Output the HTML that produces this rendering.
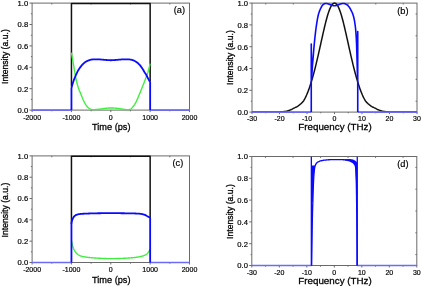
<!DOCTYPE html>
<html><head><meta charset="utf-8"><style>
html,body{margin:0;padding:0;background:#fff;}
body{width:422px;height:287px;overflow:hidden;font-family:"Liberation Sans",sans-serif;}
svg{display:block;}
</style></head><body>
<svg width="422" height="287" viewBox="0 0 422 287">
<rect width="422" height="287" fill="#fff"/>
<g>
<g style="filter:grayscale(1)" font-family='"Liberation Sans", sans-serif' fill="#000" stroke="#000" stroke-width="0.28">
<rect x="32.10" y="3.10" width="157.40" height="107.00" fill="none" stroke="#6a6a6a" stroke-width="1"/>
<line x1="29.50" y1="110.10" x2="32.10" y2="110.10" stroke="#6a6a6a" stroke-width="1"/>
<text x="0" y="0" font-size="7.20" stroke-width="0.18" text-anchor="end" dominant-baseline="central" transform="translate(28.20,110.50) scale(1.060,1)">0.0</text>
<line x1="29.50" y1="88.70" x2="32.10" y2="88.70" stroke="#6a6a6a" stroke-width="1"/>
<text x="0" y="0" font-size="7.20" stroke-width="0.18" text-anchor="end" dominant-baseline="central" transform="translate(28.20,89.10) scale(1.060,1)">0.2</text>
<line x1="29.50" y1="67.30" x2="32.10" y2="67.30" stroke="#6a6a6a" stroke-width="1"/>
<text x="0" y="0" font-size="7.20" stroke-width="0.18" text-anchor="end" dominant-baseline="central" transform="translate(28.20,67.70) scale(1.060,1)">0.4</text>
<line x1="29.50" y1="45.90" x2="32.10" y2="45.90" stroke="#6a6a6a" stroke-width="1"/>
<text x="0" y="0" font-size="7.20" stroke-width="0.18" text-anchor="end" dominant-baseline="central" transform="translate(28.20,46.30) scale(1.060,1)">0.6</text>
<line x1="29.50" y1="24.50" x2="32.10" y2="24.50" stroke="#6a6a6a" stroke-width="1"/>
<text x="0" y="0" font-size="7.20" stroke-width="0.18" text-anchor="end" dominant-baseline="central" transform="translate(28.20,24.90) scale(1.060,1)">0.8</text>
<line x1="29.50" y1="3.10" x2="32.10" y2="3.10" stroke="#6a6a6a" stroke-width="1"/>
<text x="0" y="0" font-size="7.20" stroke-width="0.18" text-anchor="end" dominant-baseline="central" transform="translate(28.20,3.50) scale(1.060,1)">1.0</text>
<line x1="30.90" y1="99.40" x2="32.10" y2="99.40" stroke="#6a6a6a" stroke-width="1"/>
<line x1="30.90" y1="78.00" x2="32.10" y2="78.00" stroke="#6a6a6a" stroke-width="1"/>
<line x1="30.90" y1="56.60" x2="32.10" y2="56.60" stroke="#6a6a6a" stroke-width="1"/>
<line x1="30.90" y1="35.20" x2="32.10" y2="35.20" stroke="#6a6a6a" stroke-width="1"/>
<line x1="30.90" y1="13.80" x2="32.10" y2="13.80" stroke="#6a6a6a" stroke-width="1"/>
<line x1="32.10" y1="110.10" x2="32.10" y2="112.10" stroke="#6a6a6a" stroke-width="1"/>
<line x1="71.45" y1="110.10" x2="71.45" y2="112.10" stroke="#6a6a6a" stroke-width="1"/>
<line x1="110.80" y1="110.10" x2="110.80" y2="112.10" stroke="#6a6a6a" stroke-width="1"/>
<line x1="150.15" y1="110.10" x2="150.15" y2="112.10" stroke="#6a6a6a" stroke-width="1"/>
<line x1="189.50" y1="110.10" x2="189.50" y2="112.10" stroke="#6a6a6a" stroke-width="1"/>
<line x1="51.78" y1="110.10" x2="51.78" y2="111.30" stroke="#6a6a6a" stroke-width="1"/>
<line x1="91.12" y1="110.10" x2="91.12" y2="111.30" stroke="#6a6a6a" stroke-width="1"/>
<line x1="130.47" y1="110.10" x2="130.47" y2="111.30" stroke="#6a6a6a" stroke-width="1"/>
<line x1="169.82" y1="110.10" x2="169.82" y2="111.30" stroke="#6a6a6a" stroke-width="1"/>
<line x1="51.78" y1="3.10" x2="51.78" y2="4.50" stroke="#6a6a6a" stroke-width="1"/>
<line x1="91.12" y1="3.10" x2="91.12" y2="4.50" stroke="#6a6a6a" stroke-width="1"/>
<line x1="130.47" y1="3.10" x2="130.47" y2="4.50" stroke="#6a6a6a" stroke-width="1"/>
<line x1="169.82" y1="3.10" x2="169.82" y2="4.50" stroke="#6a6a6a" stroke-width="1"/>
<text x="32.10" y="119.60" font-size="7" stroke-width="0.18" text-anchor="middle">-2000</text>
<text x="71.45" y="119.60" font-size="7" stroke-width="0.18" text-anchor="middle">-1000</text>
<text x="110.80" y="119.60" font-size="7" stroke-width="0.18" text-anchor="middle">0</text>
<text x="150.15" y="119.60" font-size="7" stroke-width="0.18" text-anchor="middle">1000</text>
<text x="189.50" y="119.60" font-size="7" stroke-width="0.18" text-anchor="middle">2000</text>
<rect x="32.10" y="155.90" width="157.40" height="106.60" fill="none" stroke="#6a6a6a" stroke-width="1"/>
<line x1="29.50" y1="262.50" x2="32.10" y2="262.50" stroke="#6a6a6a" stroke-width="1"/>
<text x="0" y="0" font-size="7.20" stroke-width="0.18" text-anchor="end" dominant-baseline="central" transform="translate(28.20,262.90) scale(1.060,1)">0.0</text>
<line x1="29.50" y1="241.18" x2="32.10" y2="241.18" stroke="#6a6a6a" stroke-width="1"/>
<text x="0" y="0" font-size="7.20" stroke-width="0.18" text-anchor="end" dominant-baseline="central" transform="translate(28.20,241.58) scale(1.060,1)">0.2</text>
<line x1="29.50" y1="219.86" x2="32.10" y2="219.86" stroke="#6a6a6a" stroke-width="1"/>
<text x="0" y="0" font-size="7.20" stroke-width="0.18" text-anchor="end" dominant-baseline="central" transform="translate(28.20,220.26) scale(1.060,1)">0.4</text>
<line x1="29.50" y1="198.54" x2="32.10" y2="198.54" stroke="#6a6a6a" stroke-width="1"/>
<text x="0" y="0" font-size="7.20" stroke-width="0.18" text-anchor="end" dominant-baseline="central" transform="translate(28.20,198.94) scale(1.060,1)">0.6</text>
<line x1="29.50" y1="177.22" x2="32.10" y2="177.22" stroke="#6a6a6a" stroke-width="1"/>
<text x="0" y="0" font-size="7.20" stroke-width="0.18" text-anchor="end" dominant-baseline="central" transform="translate(28.20,177.62) scale(1.060,1)">0.8</text>
<line x1="29.50" y1="155.90" x2="32.10" y2="155.90" stroke="#6a6a6a" stroke-width="1"/>
<text x="0" y="0" font-size="7.20" stroke-width="0.18" text-anchor="end" dominant-baseline="central" transform="translate(28.20,156.30) scale(1.060,1)">1.0</text>
<line x1="30.90" y1="251.84" x2="32.10" y2="251.84" stroke="#6a6a6a" stroke-width="1"/>
<line x1="30.90" y1="230.52" x2="32.10" y2="230.52" stroke="#6a6a6a" stroke-width="1"/>
<line x1="30.90" y1="209.20" x2="32.10" y2="209.20" stroke="#6a6a6a" stroke-width="1"/>
<line x1="30.90" y1="187.88" x2="32.10" y2="187.88" stroke="#6a6a6a" stroke-width="1"/>
<line x1="30.90" y1="166.56" x2="32.10" y2="166.56" stroke="#6a6a6a" stroke-width="1"/>
<line x1="32.10" y1="262.50" x2="32.10" y2="264.50" stroke="#6a6a6a" stroke-width="1"/>
<line x1="71.45" y1="262.50" x2="71.45" y2="264.50" stroke="#6a6a6a" stroke-width="1"/>
<line x1="110.80" y1="262.50" x2="110.80" y2="264.50" stroke="#6a6a6a" stroke-width="1"/>
<line x1="150.15" y1="262.50" x2="150.15" y2="264.50" stroke="#6a6a6a" stroke-width="1"/>
<line x1="189.50" y1="262.50" x2="189.50" y2="264.50" stroke="#6a6a6a" stroke-width="1"/>
<line x1="51.78" y1="262.50" x2="51.78" y2="263.70" stroke="#6a6a6a" stroke-width="1"/>
<line x1="91.12" y1="262.50" x2="91.12" y2="263.70" stroke="#6a6a6a" stroke-width="1"/>
<line x1="130.47" y1="262.50" x2="130.47" y2="263.70" stroke="#6a6a6a" stroke-width="1"/>
<line x1="169.82" y1="262.50" x2="169.82" y2="263.70" stroke="#6a6a6a" stroke-width="1"/>
<line x1="51.78" y1="155.90" x2="51.78" y2="157.30" stroke="#6a6a6a" stroke-width="1"/>
<line x1="91.12" y1="155.90" x2="91.12" y2="157.30" stroke="#6a6a6a" stroke-width="1"/>
<line x1="130.47" y1="155.90" x2="130.47" y2="157.30" stroke="#6a6a6a" stroke-width="1"/>
<line x1="169.82" y1="155.90" x2="169.82" y2="157.30" stroke="#6a6a6a" stroke-width="1"/>
<text x="32.10" y="271.80" font-size="7" stroke-width="0.18" text-anchor="middle">-2000</text>
<text x="71.45" y="271.80" font-size="7" stroke-width="0.18" text-anchor="middle">-1000</text>
<text x="110.80" y="271.80" font-size="7" stroke-width="0.18" text-anchor="middle">0</text>
<text x="150.15" y="271.80" font-size="7" stroke-width="0.18" text-anchor="middle">1000</text>
<text x="189.50" y="271.80" font-size="7" stroke-width="0.18" text-anchor="middle">2000</text>
<rect x="252.00" y="3.10" width="165.00" height="109.00" fill="none" stroke="#6a6a6a" stroke-width="1"/>
<line x1="249.40" y1="112.10" x2="252.00" y2="112.10" stroke="#6a6a6a" stroke-width="1"/>
<text x="0" y="0" font-size="7.20" stroke-width="0.18" text-anchor="end" dominant-baseline="central" transform="translate(248.10,112.50) scale(1.060,1)">0.0</text>
<line x1="249.40" y1="90.30" x2="252.00" y2="90.30" stroke="#6a6a6a" stroke-width="1"/>
<text x="0" y="0" font-size="7.20" stroke-width="0.18" text-anchor="end" dominant-baseline="central" transform="translate(248.10,90.70) scale(1.060,1)">0.2</text>
<line x1="249.40" y1="68.50" x2="252.00" y2="68.50" stroke="#6a6a6a" stroke-width="1"/>
<text x="0" y="0" font-size="7.20" stroke-width="0.18" text-anchor="end" dominant-baseline="central" transform="translate(248.10,68.90) scale(1.060,1)">0.4</text>
<line x1="249.40" y1="46.70" x2="252.00" y2="46.70" stroke="#6a6a6a" stroke-width="1"/>
<text x="0" y="0" font-size="7.20" stroke-width="0.18" text-anchor="end" dominant-baseline="central" transform="translate(248.10,47.10) scale(1.060,1)">0.6</text>
<line x1="249.40" y1="24.90" x2="252.00" y2="24.90" stroke="#6a6a6a" stroke-width="1"/>
<text x="0" y="0" font-size="7.20" stroke-width="0.18" text-anchor="end" dominant-baseline="central" transform="translate(248.10,25.30) scale(1.060,1)">0.8</text>
<line x1="249.40" y1="3.10" x2="252.00" y2="3.10" stroke="#6a6a6a" stroke-width="1"/>
<text x="0" y="0" font-size="7.20" stroke-width="0.18" text-anchor="end" dominant-baseline="central" transform="translate(248.10,3.50) scale(1.060,1)">1.0</text>
<line x1="250.80" y1="101.20" x2="252.00" y2="101.20" stroke="#6a6a6a" stroke-width="1"/>
<line x1="250.80" y1="79.40" x2="252.00" y2="79.40" stroke="#6a6a6a" stroke-width="1"/>
<line x1="250.80" y1="57.60" x2="252.00" y2="57.60" stroke="#6a6a6a" stroke-width="1"/>
<line x1="250.80" y1="35.80" x2="252.00" y2="35.80" stroke="#6a6a6a" stroke-width="1"/>
<line x1="250.80" y1="14.00" x2="252.00" y2="14.00" stroke="#6a6a6a" stroke-width="1"/>
<line x1="252.00" y1="112.10" x2="252.00" y2="114.10" stroke="#6a6a6a" stroke-width="1"/>
<line x1="279.50" y1="112.10" x2="279.50" y2="114.10" stroke="#6a6a6a" stroke-width="1"/>
<line x1="307.00" y1="112.10" x2="307.00" y2="114.10" stroke="#6a6a6a" stroke-width="1"/>
<line x1="334.50" y1="112.10" x2="334.50" y2="114.10" stroke="#6a6a6a" stroke-width="1"/>
<line x1="362.00" y1="112.10" x2="362.00" y2="114.10" stroke="#6a6a6a" stroke-width="1"/>
<line x1="389.50" y1="112.10" x2="389.50" y2="114.10" stroke="#6a6a6a" stroke-width="1"/>
<line x1="417.00" y1="112.10" x2="417.00" y2="114.10" stroke="#6a6a6a" stroke-width="1"/>
<line x1="265.75" y1="112.10" x2="265.75" y2="113.30" stroke="#6a6a6a" stroke-width="1"/>
<line x1="293.25" y1="112.10" x2="293.25" y2="113.30" stroke="#6a6a6a" stroke-width="1"/>
<line x1="320.75" y1="112.10" x2="320.75" y2="113.30" stroke="#6a6a6a" stroke-width="1"/>
<line x1="348.25" y1="112.10" x2="348.25" y2="113.30" stroke="#6a6a6a" stroke-width="1"/>
<line x1="375.75" y1="112.10" x2="375.75" y2="113.30" stroke="#6a6a6a" stroke-width="1"/>
<line x1="403.25" y1="112.10" x2="403.25" y2="113.30" stroke="#6a6a6a" stroke-width="1"/>
<line x1="265.75" y1="3.10" x2="265.75" y2="4.50" stroke="#6a6a6a" stroke-width="1"/>
<line x1="293.25" y1="3.10" x2="293.25" y2="4.50" stroke="#6a6a6a" stroke-width="1"/>
<line x1="320.75" y1="3.10" x2="320.75" y2="4.50" stroke="#6a6a6a" stroke-width="1"/>
<line x1="348.25" y1="3.10" x2="348.25" y2="4.50" stroke="#6a6a6a" stroke-width="1"/>
<line x1="375.75" y1="3.10" x2="375.75" y2="4.50" stroke="#6a6a6a" stroke-width="1"/>
<line x1="403.25" y1="3.10" x2="403.25" y2="4.50" stroke="#6a6a6a" stroke-width="1"/>
<line x1="415.60" y1="101.20" x2="417.00" y2="101.20" stroke="#6a6a6a" stroke-width="1"/>
<line x1="415.60" y1="79.40" x2="417.00" y2="79.40" stroke="#6a6a6a" stroke-width="1"/>
<line x1="415.60" y1="57.60" x2="417.00" y2="57.60" stroke="#6a6a6a" stroke-width="1"/>
<line x1="415.60" y1="35.80" x2="417.00" y2="35.80" stroke="#6a6a6a" stroke-width="1"/>
<line x1="415.60" y1="14.00" x2="417.00" y2="14.00" stroke="#6a6a6a" stroke-width="1"/>
<text x="252.00" y="121.40" font-size="7" stroke-width="0.18" text-anchor="middle">-30</text>
<text x="279.50" y="121.40" font-size="7" stroke-width="0.18" text-anchor="middle">-20</text>
<text x="307.00" y="121.40" font-size="7" stroke-width="0.18" text-anchor="middle">-10</text>
<text x="334.50" y="121.40" font-size="7" stroke-width="0.18" text-anchor="middle">0</text>
<text x="362.00" y="121.40" font-size="7" stroke-width="0.18" text-anchor="middle">10</text>
<text x="389.50" y="121.40" font-size="7" stroke-width="0.18" text-anchor="middle">20</text>
<text x="417.00" y="121.40" font-size="7" stroke-width="0.18" text-anchor="middle">30</text>
<rect x="251.80" y="156.50" width="165.00" height="109.00" fill="none" stroke="#6a6a6a" stroke-width="1"/>
<line x1="249.20" y1="265.50" x2="251.80" y2="265.50" stroke="#6a6a6a" stroke-width="1"/>
<text x="0" y="0" font-size="7.20" stroke-width="0.18" text-anchor="end" dominant-baseline="central" transform="translate(247.90,265.90) scale(1.060,1)">0.0</text>
<line x1="249.20" y1="243.70" x2="251.80" y2="243.70" stroke="#6a6a6a" stroke-width="1"/>
<text x="0" y="0" font-size="7.20" stroke-width="0.18" text-anchor="end" dominant-baseline="central" transform="translate(247.90,244.10) scale(1.060,1)">0.2</text>
<line x1="249.20" y1="221.90" x2="251.80" y2="221.90" stroke="#6a6a6a" stroke-width="1"/>
<text x="0" y="0" font-size="7.20" stroke-width="0.18" text-anchor="end" dominant-baseline="central" transform="translate(247.90,222.30) scale(1.060,1)">0.4</text>
<line x1="249.20" y1="200.10" x2="251.80" y2="200.10" stroke="#6a6a6a" stroke-width="1"/>
<text x="0" y="0" font-size="7.20" stroke-width="0.18" text-anchor="end" dominant-baseline="central" transform="translate(247.90,200.50) scale(1.060,1)">0.6</text>
<line x1="249.20" y1="178.30" x2="251.80" y2="178.30" stroke="#6a6a6a" stroke-width="1"/>
<text x="0" y="0" font-size="7.20" stroke-width="0.18" text-anchor="end" dominant-baseline="central" transform="translate(247.90,178.70) scale(1.060,1)">0.8</text>
<line x1="249.20" y1="156.50" x2="251.80" y2="156.50" stroke="#6a6a6a" stroke-width="1"/>
<text x="0" y="0" font-size="7.20" stroke-width="0.18" text-anchor="end" dominant-baseline="central" transform="translate(247.90,156.90) scale(1.060,1)">1.0</text>
<line x1="250.60" y1="254.60" x2="251.80" y2="254.60" stroke="#6a6a6a" stroke-width="1"/>
<line x1="250.60" y1="232.80" x2="251.80" y2="232.80" stroke="#6a6a6a" stroke-width="1"/>
<line x1="250.60" y1="211.00" x2="251.80" y2="211.00" stroke="#6a6a6a" stroke-width="1"/>
<line x1="250.60" y1="189.20" x2="251.80" y2="189.20" stroke="#6a6a6a" stroke-width="1"/>
<line x1="250.60" y1="167.40" x2="251.80" y2="167.40" stroke="#6a6a6a" stroke-width="1"/>
<line x1="251.80" y1="265.50" x2="251.80" y2="267.50" stroke="#6a6a6a" stroke-width="1"/>
<line x1="279.30" y1="265.50" x2="279.30" y2="267.50" stroke="#6a6a6a" stroke-width="1"/>
<line x1="306.80" y1="265.50" x2="306.80" y2="267.50" stroke="#6a6a6a" stroke-width="1"/>
<line x1="334.30" y1="265.50" x2="334.30" y2="267.50" stroke="#6a6a6a" stroke-width="1"/>
<line x1="361.80" y1="265.50" x2="361.80" y2="267.50" stroke="#6a6a6a" stroke-width="1"/>
<line x1="389.30" y1="265.50" x2="389.30" y2="267.50" stroke="#6a6a6a" stroke-width="1"/>
<line x1="416.80" y1="265.50" x2="416.80" y2="267.50" stroke="#6a6a6a" stroke-width="1"/>
<line x1="265.55" y1="265.50" x2="265.55" y2="266.70" stroke="#6a6a6a" stroke-width="1"/>
<line x1="293.05" y1="265.50" x2="293.05" y2="266.70" stroke="#6a6a6a" stroke-width="1"/>
<line x1="320.55" y1="265.50" x2="320.55" y2="266.70" stroke="#6a6a6a" stroke-width="1"/>
<line x1="348.05" y1="265.50" x2="348.05" y2="266.70" stroke="#6a6a6a" stroke-width="1"/>
<line x1="375.55" y1="265.50" x2="375.55" y2="266.70" stroke="#6a6a6a" stroke-width="1"/>
<line x1="403.05" y1="265.50" x2="403.05" y2="266.70" stroke="#6a6a6a" stroke-width="1"/>
<line x1="265.55" y1="156.50" x2="265.55" y2="157.90" stroke="#6a6a6a" stroke-width="1"/>
<line x1="293.05" y1="156.50" x2="293.05" y2="157.90" stroke="#6a6a6a" stroke-width="1"/>
<line x1="320.55" y1="156.50" x2="320.55" y2="157.90" stroke="#6a6a6a" stroke-width="1"/>
<line x1="348.05" y1="156.50" x2="348.05" y2="157.90" stroke="#6a6a6a" stroke-width="1"/>
<line x1="375.55" y1="156.50" x2="375.55" y2="157.90" stroke="#6a6a6a" stroke-width="1"/>
<line x1="403.05" y1="156.50" x2="403.05" y2="157.90" stroke="#6a6a6a" stroke-width="1"/>
<line x1="415.40" y1="254.60" x2="416.80" y2="254.60" stroke="#6a6a6a" stroke-width="1"/>
<line x1="415.40" y1="232.80" x2="416.80" y2="232.80" stroke="#6a6a6a" stroke-width="1"/>
<line x1="415.40" y1="211.00" x2="416.80" y2="211.00" stroke="#6a6a6a" stroke-width="1"/>
<line x1="415.40" y1="189.20" x2="416.80" y2="189.20" stroke="#6a6a6a" stroke-width="1"/>
<line x1="415.40" y1="167.40" x2="416.80" y2="167.40" stroke="#6a6a6a" stroke-width="1"/>
<text x="251.80" y="274.80" font-size="7" stroke-width="0.18" text-anchor="middle">-30</text>
<text x="279.30" y="274.80" font-size="7" stroke-width="0.18" text-anchor="middle">-20</text>
<text x="306.80" y="274.80" font-size="7" stroke-width="0.18" text-anchor="middle">-10</text>
<text x="334.30" y="274.80" font-size="7" stroke-width="0.18" text-anchor="middle">0</text>
<text x="361.80" y="274.80" font-size="7" stroke-width="0.18" text-anchor="middle">10</text>
<text x="389.30" y="274.80" font-size="7" stroke-width="0.18" text-anchor="middle">20</text>
<text x="416.80" y="274.80" font-size="7" stroke-width="0.18" text-anchor="middle">30</text>
<text x="111.3" y="129.6" font-size="9.2" text-anchor="middle">Time (ps)</text>
<text x="111.3" y="283.3" font-size="9.2" text-anchor="middle">Time (ps)</text>
<text x="335.0" y="129.8" font-size="9.8" text-anchor="middle">Frequency (THz)</text>
<text x="335.0" y="283.7" font-size="9.8" text-anchor="middle">Frequency (THz)</text>
<text x="0" y="0" font-size="8.65" text-anchor="middle" transform="translate(8.40,56.60) rotate(-90) scale(1,1.14)">Intensity (a.u.)</text>
<text x="0" y="0" font-size="8.65" text-anchor="middle" transform="translate(233.00,57.50) rotate(-90) scale(1,1.14)">Intensity (a.u.)</text>
<text x="0" y="0" font-size="8.65" text-anchor="middle" transform="translate(8.40,210.00) rotate(-90) scale(1,1.14)">Intensity (a.u.)</text>
<text x="0" y="0" font-size="8.65" text-anchor="middle" transform="translate(233.00,211.50) rotate(-90) scale(1,1.14)">Intensity (a.u.)</text>
<text x="0" y="0" font-size="8.70" stroke-width="0.18" transform="translate(173.70,12.60) scale(1.060,1)">(a)</text>
<text x="0" y="0" font-size="8.70" stroke-width="0.18" transform="translate(397.20,13.50) scale(1.060,1)">(b)</text>
<text x="0" y="0" font-size="8.70" stroke-width="0.18" transform="translate(172.50,165.60) scale(1.060,1)">(c)</text>
<text x="0" y="0" font-size="8.70" stroke-width="0.18" transform="translate(397.20,166.60) scale(1.060,1)">(d)</text>
</g>
<path d="M71.45,86.56 L71.45,3.42 L150.15,3.42 L150.15,81.21" fill="none" stroke="#111" stroke-width="1.50" stroke-linejoin="round" stroke-linecap="butt"/>
<path d="M71.45,52.64 L71.85,54.92 L72.24,57.21 L72.64,59.49 L73.03,61.78 L73.43,64.08 L73.82,66.39 L74.22,68.81 L74.61,71.26 L75.01,73.65 L75.40,75.90 L75.80,77.92 L76.20,79.73 L76.59,81.43 L76.99,83.03 L77.38,84.53 L77.78,85.92 L78.17,87.20 L78.57,88.37 L78.96,89.44 L79.36,90.45 L79.76,91.41 L80.15,92.37 L80.55,93.33 L80.94,94.33 L81.34,95.34 L81.73,96.34 L82.13,97.32 L82.52,98.28 L82.92,99.20 L83.31,100.06 L83.71,100.89 L84.11,101.70 L84.50,102.48 L84.90,103.21 L85.29,103.89 L85.69,104.51 L86.08,105.10 L86.48,105.67 L86.87,106.21 L87.27,106.70 L87.66,107.13 L88.06,107.50 L88.46,107.83 L88.85,108.14 L89.25,108.42 L89.64,108.67 L90.04,108.87 L90.43,109.04 L90.83,109.18 L91.22,109.31 L91.62,109.43 L92.01,109.54 L92.41,109.61 L92.81,109.66 L93.20,109.67 L93.60,109.67 L93.99,109.66 L94.39,109.64 L94.78,109.62 L95.18,109.60 L95.57,109.57 L95.97,109.54 L96.37,109.50 L96.76,109.46 L97.16,109.43 L97.55,109.39 L97.95,109.35 L98.34,109.31 L98.74,109.27 L99.13,109.23 L99.53,109.19 L99.92,109.14 L100.32,109.08 L100.72,109.02 L101.11,108.96 L101.51,108.89 L101.90,108.82 L102.30,108.76 L102.69,108.69 L103.09,108.63 L103.48,108.57 L103.88,108.51 L104.27,108.46 L104.67,108.41 L105.07,108.37 L105.46,108.33 L105.86,108.29 L106.25,108.25 L106.65,108.21 L107.04,108.18 L107.44,108.14 L107.83,108.10 L108.23,108.07 L108.62,108.04 L109.02,108.02 L109.42,108.00 L109.81,107.98 L110.21,107.97 L110.60,107.96 L111.00,107.96 L111.39,107.96 L111.79,107.97 L112.18,107.99 L112.58,108.00 L112.98,108.02 L113.37,108.04 L113.77,108.06 L114.16,108.09 L114.56,108.12 L114.95,108.14 L115.35,108.17 L115.74,108.21 L116.14,108.24 L116.53,108.27 L116.93,108.30 L117.33,108.34 L117.72,108.39 L118.12,108.44 L118.51,108.49 L118.91,108.55 L119.30,108.62 L119.70,108.68 L120.09,108.75 L120.49,108.81 L120.88,108.88 L121.28,108.94 L121.68,109.01 L122.07,109.06 L122.47,109.12 L122.86,109.17 L123.26,109.23 L123.65,109.28 L124.05,109.34 L124.44,109.40 L124.84,109.46 L125.23,109.52 L125.63,109.56 L126.03,109.61 L126.42,109.64 L126.82,109.66 L127.21,109.67 L127.61,109.67 L128.00,109.65 L128.40,109.63 L128.79,109.59 L129.19,109.54 L129.59,109.49 L129.98,109.42 L130.38,109.26 L130.77,109.00 L131.17,108.67 L131.56,108.29 L131.96,107.87 L132.35,107.43 L132.75,106.99 L133.14,106.54 L133.54,106.04 L133.94,105.49 L134.33,104.90 L134.73,104.27 L135.12,103.60 L135.52,102.92 L135.91,102.20 L136.31,101.46 L136.70,100.65 L137.10,99.78 L137.49,98.88 L137.89,97.94 L138.29,96.98 L138.68,96.01 L139.08,95.04 L139.47,94.08 L139.87,93.13 L140.26,92.16 L140.66,91.17 L141.05,90.18 L141.45,89.19 L141.84,88.19 L142.24,87.19 L142.64,86.21 L143.03,85.22 L143.43,84.23 L143.82,83.24 L144.22,82.23 L144.61,81.20 L145.01,80.17 L145.40,79.12 L145.80,78.05 L146.20,76.98 L146.59,75.93 L146.99,74.89 L147.38,73.81 L147.78,72.66 L148.17,71.39 L148.57,70.01 L148.96,68.54 L149.36,66.97 L149.75,65.30 L150.15,63.55" fill="none" stroke="#40ee40" stroke-width="1.40" stroke-linejoin="round" stroke-linecap="butt"/>
<line x1="32.10" y1="110.10" x2="71.45" y2="110.10" stroke="#6c6cf2" stroke-width="1.60"/>
<line x1="150.15" y1="110.10" x2="189.50" y2="110.10" stroke="#6c6cf2" stroke-width="1.60"/>
<path d="M71.45,110.10 L71.45,88.16 L71.85,86.60 L72.24,85.11 L72.64,83.70 L73.03,82.39 L73.43,81.18 L73.82,80.08 L74.22,79.05 L74.61,78.08 L75.01,77.15 L75.40,76.25 L75.80,75.36 L76.20,74.48 L76.59,73.61 L76.99,72.76 L77.38,71.94 L77.78,71.17 L78.17,70.45 L78.57,69.78 L78.96,69.14 L79.36,68.53 L79.76,67.94 L80.15,67.39 L80.55,66.86 L80.94,66.35 L81.34,65.86 L81.73,65.39 L82.13,64.93 L82.52,64.50 L82.92,64.10 L83.31,63.71 L83.71,63.35 L84.11,63.00 L84.50,62.67 L84.90,62.37 L85.29,62.08 L85.69,61.83 L86.08,61.60 L86.48,61.38 L86.87,61.17 L87.27,60.98 L87.66,60.80 L88.06,60.63 L88.46,60.47 L88.85,60.31 L89.25,60.16 L89.64,60.02 L90.04,59.90 L90.43,59.81 L90.83,59.72 L91.22,59.64 L91.62,59.56 L92.01,59.50 L92.41,59.44 L92.81,59.40 L93.20,59.38 L93.60,59.36 L93.99,59.34 L94.39,59.33 L94.78,59.31 L95.18,59.30 L95.57,59.29 L95.97,59.28 L96.37,59.28 L96.76,59.28 L97.16,59.28 L97.55,59.28 L97.95,59.29 L98.34,59.31 L98.74,59.34 L99.13,59.37 L99.53,59.40 L99.92,59.43 L100.32,59.47 L100.72,59.51 L101.11,59.54 L101.51,59.58 L101.90,59.62 L102.30,59.65 L102.69,59.69 L103.09,59.71 L103.48,59.74 L103.88,59.78 L104.27,59.81 L104.67,59.84 L105.07,59.88 L105.46,59.92 L105.86,59.95 L106.25,59.99 L106.65,60.02 L107.04,60.05 L107.44,60.09 L107.83,60.12 L108.23,60.14 L108.62,60.17 L109.02,60.19 L109.42,60.21 L109.81,60.22 L110.21,60.23 L110.60,60.24 L111.00,60.24 L111.39,60.23 L111.79,60.22 L112.18,60.21 L112.58,60.19 L112.98,60.17 L113.37,60.14 L113.77,60.12 L114.16,60.09 L114.56,60.05 L114.95,60.02 L115.35,59.99 L115.74,59.95 L116.14,59.92 L116.53,59.88 L116.93,59.84 L117.33,59.81 L117.72,59.78 L118.12,59.74 L118.51,59.71 L118.91,59.69 L119.30,59.65 L119.70,59.62 L120.09,59.58 L120.49,59.54 L120.88,59.51 L121.28,59.47 L121.68,59.43 L122.07,59.40 L122.47,59.37 L122.86,59.34 L123.26,59.31 L123.65,59.29 L124.05,59.28 L124.44,59.28 L124.84,59.28 L125.23,59.28 L125.63,59.28 L126.03,59.29 L126.42,59.30 L126.82,59.31 L127.21,59.33 L127.61,59.34 L128.00,59.36 L128.40,59.38 L128.79,59.40 L129.19,59.43 L129.59,59.47 L129.98,59.53 L130.38,59.59 L130.77,59.66 L131.17,59.74 L131.56,59.82 L131.96,59.91 L132.35,60.00 L132.75,60.11 L133.14,60.24 L133.54,60.39 L133.94,60.56 L134.33,60.75 L134.73,60.96 L135.12,61.18 L135.52,61.41 L135.91,61.66 L136.31,61.91 L136.70,62.17 L137.10,62.47 L137.49,62.79 L137.89,63.14 L138.29,63.51 L138.68,63.90 L139.08,64.30 L139.47,64.72 L139.87,65.15 L140.26,65.62 L140.66,66.11 L141.05,66.63 L141.45,67.17 L141.84,67.73 L142.24,68.31 L142.64,68.93 L143.03,69.60 L143.43,70.31 L143.82,71.01 L144.22,71.70 L144.61,72.34 L145.01,72.93 L145.40,73.52 L145.80,74.11 L146.20,74.76 L146.59,75.47 L146.99,76.24 L147.38,77.04 L147.78,77.82 L148.17,78.56 L148.57,79.28 L148.96,80.00 L149.36,80.70 L149.75,81.39 L150.15,82.07 L150.15,110.10" fill="none" stroke="#0a0aff" stroke-width="1.80" stroke-linejoin="round" stroke-linecap="butt"/>
<path d="M71.45,224.12 L71.45,156.22 L150.15,156.22 L150.15,217.73" fill="none" stroke="#111" stroke-width="1.50" stroke-linejoin="round" stroke-linecap="butt"/>
<path d="M71.45,240.65 L71.85,242.50 L72.24,244.17 L72.64,245.65 L73.03,246.98 L73.43,248.14 L73.82,249.15 L74.22,250.05 L74.61,250.80 L75.01,251.43 L75.40,251.99 L75.80,252.48 L76.20,252.93 L76.59,253.36 L76.99,253.76 L77.38,254.13 L77.78,254.46 L78.17,254.74 L78.57,254.98 L78.96,255.21 L79.36,255.41 L79.76,255.60 L80.15,255.76 L80.55,255.91 L80.94,256.04 L81.34,256.16 L81.73,256.28 L82.13,256.38 L82.52,256.48 L82.92,256.57 L83.31,256.65 L83.71,256.72 L84.11,256.80 L84.50,256.87 L84.90,256.93 L85.29,257.00 L85.69,257.06 L86.08,257.11 L86.48,257.17 L86.87,257.22 L87.27,257.27 L87.66,257.32 L88.06,257.37 L88.46,257.42 L88.85,257.46 L89.25,257.50 L89.64,257.54 L90.04,257.58 L90.43,257.62 L90.83,257.65 L91.22,257.69 L91.62,257.73 L92.01,257.76 L92.41,257.79 L92.81,257.83 L93.20,257.86 L93.60,257.89 L93.99,257.92 L94.39,257.95 L94.78,257.98 L95.18,258.01 L95.57,258.04 L95.97,258.06 L96.37,258.09 L96.76,258.11 L97.16,258.14 L97.55,258.16 L97.95,258.18 L98.34,258.20 L98.74,258.22 L99.13,258.24 L99.53,258.26 L99.92,258.28 L100.32,258.30 L100.72,258.32 L101.11,258.34 L101.51,258.36 L101.90,258.38 L102.30,258.40 L102.69,258.42 L103.09,258.44 L103.48,258.46 L103.88,258.48 L104.27,258.50 L104.67,258.51 L105.07,258.53 L105.46,258.55 L105.86,258.56 L106.25,258.57 L106.65,258.59 L107.04,258.60 L107.44,258.61 L107.83,258.62 L108.23,258.63 L108.62,258.64 L109.02,258.65 L109.42,258.65 L109.81,258.66 L110.21,258.66 L110.60,258.66 L111.00,258.66 L111.39,258.66 L111.79,258.66 L112.18,258.66 L112.58,258.65 L112.98,258.65 L113.37,258.64 L113.77,258.63 L114.16,258.63 L114.56,258.62 L114.95,258.61 L115.35,258.60 L115.74,258.59 L116.14,258.58 L116.53,258.56 L116.93,258.55 L117.33,258.54 L117.72,258.53 L118.12,258.51 L118.51,258.50 L118.91,258.48 L119.30,258.47 L119.70,258.46 L120.09,258.44 L120.49,258.42 L120.88,258.41 L121.28,258.39 L121.68,258.38 L122.07,258.36 L122.47,258.35 L122.86,258.33 L123.26,258.32 L123.65,258.30 L124.05,258.28 L124.44,258.26 L124.84,258.24 L125.23,258.22 L125.63,258.20 L126.03,258.18 L126.42,258.15 L126.82,258.13 L127.21,258.10 L127.61,258.08 L128.00,258.05 L128.40,258.02 L128.79,258.00 L129.19,257.97 L129.59,257.94 L129.98,257.91 L130.38,257.88 L130.77,257.84 L131.17,257.81 L131.56,257.78 L131.96,257.75 L132.35,257.71 L132.75,257.68 L133.14,257.64 L133.54,257.60 L133.94,257.56 L134.33,257.51 L134.73,257.47 L135.12,257.42 L135.52,257.37 L135.91,257.32 L136.31,257.26 L136.70,257.21 L137.10,257.15 L137.49,257.09 L137.89,257.03 L138.29,256.97 L138.68,256.90 L139.08,256.83 L139.47,256.76 L139.87,256.68 L140.26,256.60 L140.66,256.51 L141.05,256.42 L141.45,256.33 L141.84,256.22 L142.24,256.12 L142.64,256.00 L143.03,255.87 L143.43,255.73 L143.82,255.58 L144.22,255.41 L144.61,255.24 L145.01,255.05 L145.40,254.85 L145.80,254.62 L146.20,254.37 L146.59,254.09 L146.99,253.77 L147.38,253.39 L147.78,252.93 L148.17,252.41 L148.57,251.85 L148.96,251.23 L149.36,250.54 L149.75,249.78 L150.15,248.96" fill="none" stroke="#40ee40" stroke-width="1.40" stroke-linejoin="round" stroke-linecap="butt"/>
<line x1="32.10" y1="262.50" x2="71.45" y2="262.50" stroke="#6c6cf2" stroke-width="1.60"/>
<line x1="150.15" y1="262.50" x2="189.50" y2="262.50" stroke="#6c6cf2" stroke-width="1.60"/>
<path d="M71.45,262.50 L71.45,223.06 L71.85,221.30 L72.24,220.00 L72.64,219.00 L73.03,218.16 L73.43,217.44 L73.82,216.86 L74.22,216.39 L74.61,215.99 L75.01,215.64 L75.40,215.37 L75.80,215.15 L76.20,214.95 L76.59,214.78 L76.99,214.64 L77.38,214.52 L77.78,214.42 L78.17,214.32 L78.57,214.24 L78.96,214.16 L79.36,214.09 L79.76,214.04 L80.15,213.99 L80.55,213.95 L80.94,213.92 L81.34,213.89 L81.73,213.86 L82.13,213.83 L82.52,213.80 L82.92,213.77 L83.31,213.75 L83.71,213.73 L84.11,213.71 L84.50,213.69 L84.90,213.67 L85.29,213.65 L85.69,213.63 L86.08,213.61 L86.48,213.60 L86.87,213.58 L87.27,213.57 L87.66,213.55 L88.06,213.54 L88.46,213.52 L88.85,213.51 L89.25,213.49 L89.64,213.48 L90.04,213.47 L90.43,213.45 L90.83,213.44 L91.22,213.43 L91.62,213.42 L92.01,213.40 L92.41,213.39 L92.81,213.38 L93.20,213.37 L93.60,213.36 L93.99,213.35 L94.39,213.34 L94.78,213.33 L95.18,213.32 L95.57,213.31 L95.97,213.30 L96.37,213.30 L96.76,213.29 L97.16,213.28 L97.55,213.27 L97.95,213.27 L98.34,213.26 L98.74,213.25 L99.13,213.25 L99.53,213.24 L99.92,213.24 L100.32,213.23 L100.72,213.23 L101.11,213.22 L101.51,213.22 L101.90,213.21 L102.30,213.21 L102.69,213.20 L103.09,213.20 L103.48,213.19 L103.88,213.19 L104.27,213.18 L104.67,213.18 L105.07,213.18 L105.46,213.17 L105.86,213.17 L106.25,213.16 L106.65,213.16 L107.04,213.16 L107.44,213.16 L107.83,213.15 L108.23,213.15 L108.62,213.15 L109.02,213.15 L109.42,213.15 L109.81,213.15 L110.21,213.14 L110.60,213.14 L111.00,213.14 L111.39,213.14 L111.79,213.15 L112.18,213.15 L112.58,213.15 L112.98,213.15 L113.37,213.15 L113.77,213.15 L114.16,213.16 L114.56,213.16 L114.95,213.16 L115.35,213.17 L115.74,213.17 L116.14,213.17 L116.53,213.18 L116.93,213.18 L117.33,213.19 L117.72,213.19 L118.12,213.20 L118.51,213.20 L118.91,213.20 L119.30,213.21 L119.70,213.21 L120.09,213.22 L120.49,213.22 L120.88,213.23 L121.28,213.23 L121.68,213.24 L122.07,213.24 L122.47,213.25 L122.86,213.25 L123.26,213.26 L123.65,213.26 L124.05,213.27 L124.44,213.27 L124.84,213.28 L125.23,213.28 L125.63,213.29 L126.03,213.29 L126.42,213.30 L126.82,213.31 L127.21,213.31 L127.61,213.32 L128.00,213.32 L128.40,213.33 L128.79,213.34 L129.19,213.34 L129.59,213.35 L129.98,213.36 L130.38,213.37 L130.77,213.38 L131.17,213.38 L131.56,213.39 L131.96,213.40 L132.35,213.41 L132.75,213.42 L133.14,213.43 L133.54,213.44 L133.94,213.45 L134.33,213.46 L134.73,213.47 L135.12,213.49 L135.52,213.50 L135.91,213.51 L136.31,213.53 L136.70,213.55 L137.10,213.56 L137.49,213.58 L137.89,213.61 L138.29,213.63 L138.68,213.66 L139.08,213.68 L139.47,213.71 L139.87,213.74 L140.26,213.78 L140.66,213.82 L141.05,213.88 L141.45,213.95 L141.84,214.03 L142.24,214.12 L142.64,214.21 L143.03,214.31 L143.43,214.41 L143.82,214.53 L144.22,214.65 L144.61,214.79 L145.01,214.95 L145.40,215.12 L145.80,215.33 L146.20,215.56 L146.59,215.79 L146.99,216.01 L147.38,216.23 L147.78,216.44 L148.17,216.66 L148.57,216.87 L148.96,217.09 L149.36,217.30 L149.75,217.51 L150.15,217.73 L150.15,262.50" fill="none" stroke="#0a0aff" stroke-width="1.80" stroke-linejoin="round" stroke-linecap="butt"/>
<path d="M252.00,112.10 L252.41,112.10 L252.83,112.10 L253.24,112.10 L253.65,112.10 L254.07,112.10 L254.48,112.10 L254.89,112.10 L255.31,112.10 L255.72,112.10 L256.14,112.10 L256.55,112.10 L256.96,112.10 L257.38,112.10 L257.79,112.10 L258.20,112.10 L258.62,112.10 L259.03,112.10 L259.44,112.10 L259.86,112.10 L260.27,112.10 L260.68,112.10 L261.10,112.10 L261.51,112.10 L261.92,112.10 L262.34,112.10 L262.75,112.10 L263.17,112.10 L263.58,112.10 L263.99,112.10 L264.41,112.10 L264.82,112.10 L265.23,112.10 L265.65,112.09 L266.06,112.09 L266.47,112.09 L266.89,112.09 L267.30,112.09 L267.71,112.09 L268.13,112.09 L268.54,112.09 L268.95,112.09 L269.37,112.08 L269.78,112.08 L270.20,112.08 L270.61,112.08 L271.02,112.08 L271.44,112.07 L271.85,112.07 L272.26,112.07 L272.68,112.06 L273.09,112.06 L273.50,112.05 L273.92,112.05 L274.33,112.04 L274.74,112.04 L275.16,112.03 L275.57,112.02 L275.98,112.01 L276.40,112.01 L276.81,112.00 L277.23,111.98 L277.64,111.97 L278.05,111.96 L278.47,111.95 L278.88,111.93 L279.29,111.91 L279.71,111.89 L280.12,111.87 L280.53,111.85 L280.95,111.83 L281.36,111.80 L281.77,111.77 L282.19,111.74 L282.60,111.71 L283.02,111.67 L283.43,111.63 L283.84,111.59 L284.26,111.54 L284.67,111.49 L285.08,111.44 L285.50,111.37 L285.91,111.29 L286.32,111.21 L286.74,111.12 L287.15,111.03 L287.56,110.93 L287.98,110.81 L288.39,110.69 L288.80,110.56 L289.22,110.42 L289.63,110.27 L290.05,110.11 L290.46,109.93 L290.87,109.74 L291.29,109.54 L291.70,109.32 L292.11,109.09 L292.53,108.84 L292.94,108.58 L293.35,108.33 L293.77,108.17 L294.18,108.01 L294.59,107.83 L295.01,107.65 L295.42,107.45 L295.83,107.25 L296.25,107.03 L296.66,106.81 L297.08,106.57 L297.49,106.32 L297.90,106.06 L298.32,105.79 L298.73,105.50 L299.14,105.20 L299.56,104.88 L299.97,104.54 L300.38,104.19 L300.80,103.83 L301.21,103.44 L301.62,103.04 L302.04,102.62 L302.45,102.17 L302.86,101.71 L303.28,101.22 L303.69,100.71 L304.11,100.01 L304.52,99.27 L304.93,98.49 L305.35,97.68 L305.76,96.84 L306.17,95.96 L306.59,95.04 L307.00,94.08 L307.41,93.09 L307.83,92.05 L308.24,90.98 L308.65,89.87 L309.07,88.72 L309.48,87.53 L309.89,86.30 L310.31,85.03 L310.72,83.72 L311.14,82.37 L311.55,80.99 L311.96,79.61 L312.38,78.22 L312.79,76.79 L313.20,75.32 L313.62,73.83 L314.03,72.29 L314.44,70.72 L314.86,69.12 L315.27,67.49 L315.68,65.83 L316.10,64.15 L316.51,62.43 L316.92,60.69 L317.34,58.93 L317.75,57.14 L318.17,55.34 L318.58,53.52 L318.99,51.68 L319.41,49.84 L319.82,47.98 L320.23,46.12 L320.65,44.25 L321.06,42.39 L321.47,40.53 L321.89,38.67 L322.30,36.82 L322.71,34.98 L323.13,33.17 L323.54,31.36 L323.95,29.55 L324.37,27.76 L324.78,26.02 L325.20,24.31 L325.61,22.64 L326.02,21.02 L326.44,19.45 L326.85,17.93 L327.26,16.47 L327.68,15.07 L328.09,13.74 L328.50,12.47 L328.92,11.27 L329.33,10.14 L329.74,9.09 L330.16,8.12 L330.57,7.22 L330.98,6.41 L331.40,5.69 L331.81,5.05 L332.23,4.50 L332.64,4.04 L333.05,3.67 L333.47,3.39 L333.88,3.20 L334.29,3.11 L334.71,3.11 L335.12,3.20 L335.53,3.39 L335.95,3.67 L336.36,4.04 L336.77,4.50 L337.19,5.05 L337.60,5.69 L338.02,6.41 L338.43,7.22 L338.84,8.12 L339.26,9.09 L339.67,10.14 L340.08,11.27 L340.50,12.47 L340.91,13.74 L341.32,15.07 L341.74,16.47 L342.15,17.93 L342.56,19.45 L342.98,21.02 L343.39,22.64 L343.80,24.31 L344.22,26.02 L344.63,27.76 L345.05,29.55 L345.46,31.36 L345.87,33.17 L346.29,34.98 L346.70,36.82 L347.11,38.67 L347.53,40.53 L347.94,42.39 L348.35,44.25 L348.77,46.12 L349.18,47.98 L349.59,49.84 L350.01,51.68 L350.42,53.52 L350.83,55.34 L351.25,57.14 L351.66,58.93 L352.08,60.69 L352.49,62.43 L352.90,64.15 L353.32,65.83 L353.73,67.49 L354.14,69.12 L354.56,70.72 L354.97,72.29 L355.38,73.83 L355.80,75.32 L356.21,76.79 L356.62,78.22 L357.04,79.61 L357.45,80.99 L357.86,82.37 L358.28,83.72 L358.69,85.03 L359.11,86.30 L359.52,87.53 L359.93,88.72 L360.35,89.87 L360.76,90.98 L361.17,92.05 L361.59,93.09 L362.00,94.08 L362.41,95.04 L362.83,95.96 L363.24,96.84 L363.65,97.68 L364.07,98.49 L364.48,99.27 L364.89,100.01 L365.31,100.71 L365.72,101.22 L366.14,101.71 L366.55,102.17 L366.96,102.62 L367.38,103.04 L367.79,103.44 L368.20,103.83 L368.62,104.19 L369.03,104.54 L369.44,104.88 L369.86,105.20 L370.27,105.50 L370.68,105.79 L371.10,106.06 L371.51,106.32 L371.92,106.57 L372.34,106.81 L372.75,107.03 L373.17,107.25 L373.58,107.45 L373.99,107.65 L374.41,107.83 L374.82,108.01 L375.23,108.17 L375.65,108.33 L376.06,108.58 L376.47,108.84 L376.89,109.09 L377.30,109.32 L377.71,109.54 L378.13,109.74 L378.54,109.93 L378.95,110.11 L379.37,110.27 L379.78,110.42 L380.20,110.56 L380.61,110.69 L381.02,110.81 L381.44,110.93 L381.85,111.03 L382.26,111.12 L382.68,111.21 L383.09,111.29 L383.50,111.37 L383.92,111.44 L384.33,111.49 L384.74,111.54 L385.16,111.59 L385.57,111.63 L385.98,111.67 L386.40,111.71 L386.81,111.74 L387.23,111.77 L387.64,111.80 L388.05,111.83 L388.47,111.85 L388.88,111.87 L389.29,111.89 L389.71,111.91 L390.12,111.93 L390.53,111.95 L390.95,111.96 L391.36,111.97 L391.77,111.98 L392.19,112.00 L392.60,112.01 L393.02,112.01 L393.43,112.02 L393.84,112.03 L394.26,112.04 L394.67,112.04 L395.08,112.05 L395.50,112.05 L395.91,112.06 L396.32,112.06 L396.74,112.07 L397.15,112.07 L397.56,112.07 L397.98,112.08 L398.39,112.08 L398.80,112.08 L399.22,112.08 L399.63,112.08 L400.05,112.09 L400.46,112.09 L400.87,112.09 L401.29,112.09 L401.70,112.09 L402.11,112.09 L402.53,112.09 L402.94,112.09 L403.35,112.09 L403.77,112.10 L404.18,112.10 L404.59,112.10 L405.01,112.10 L405.42,112.10 L405.83,112.10 L406.25,112.10 L406.66,112.10 L407.08,112.10 L407.49,112.10 L407.90,112.10 L408.32,112.10 L408.73,112.10 L409.14,112.10 L409.56,112.10 L409.97,112.10 L410.38,112.10 L410.80,112.10 L411.21,112.10 L411.62,112.10 L412.04,112.10 L412.45,112.10 L412.86,112.10 L413.28,112.10 L413.69,112.10 L414.11,112.10 L414.52,112.10 L414.93,112.10 L415.35,112.10 L415.76,112.10 L416.17,112.10 L416.59,112.10 L417.00,112.10" fill="none" stroke="#111" stroke-width="1.50" stroke-linejoin="round" stroke-linecap="butt"/>
<line x1="252.00" y1="112.10" x2="311.26" y2="112.10" stroke="#6c6cf2" stroke-width="1.60"/>
<line x1="357.74" y1="112.10" x2="417.00" y2="112.10" stroke="#6c6cf2" stroke-width="1.60"/>
<path d="M311.26,112.10 L311.26,43.97 L311.68,79.40 L311.91,74.31 L312.14,69.94 L312.37,66.53 L312.60,63.79 L312.83,61.23 L313.06,58.49 L313.29,55.65 L313.52,52.79 L313.75,49.96 L313.98,47.22 L314.21,44.62 L314.44,42.23 L314.67,39.97 L314.90,37.78 L315.13,35.65 L315.36,33.60 L315.59,31.63 L315.82,29.76 L316.05,27.99 L316.28,26.32 L316.51,24.77 L316.74,23.30 L316.97,21.87 L317.20,20.50 L317.43,19.18 L317.66,17.94 L317.89,16.79 L318.12,15.72 L318.35,14.76 L318.58,13.90 L318.81,13.13 L319.04,12.41 L319.27,11.73 L319.50,11.11 L319.73,10.52 L319.96,9.97 L320.19,9.45 L320.42,8.95 L320.65,8.48 L320.88,8.01 L321.11,7.55 L321.34,7.09 L321.57,6.65 L321.80,6.24 L322.03,5.85 L322.26,5.50 L322.49,5.20 L322.72,4.94 L322.95,4.74 L323.18,4.57 L323.41,4.40 L323.64,4.24 L323.87,4.09 L324.10,3.95 L324.33,3.82 L324.56,3.71 L324.79,3.61 L325.02,3.53 L325.25,3.47 L325.48,3.44 L325.71,3.43 L325.94,3.43 L326.17,3.45 L326.40,3.48 L326.63,3.52 L326.86,3.56 L327.09,3.61 L327.32,3.67 L327.55,3.73 L327.78,3.79 L328.01,3.85 L328.24,3.92 L328.47,3.98 L328.70,4.05 L328.93,4.13 L329.16,4.22 L329.39,4.31 L329.62,4.42 L329.85,4.52 L330.08,4.63 L330.31,4.74 L330.54,4.85 L330.77,4.95 L331.00,5.04 L331.23,5.13 L331.46,5.20 L331.69,5.27 L331.92,5.32 L332.15,5.37 L332.38,5.42 L332.61,5.47 L332.84,5.52 L333.07,5.57 L333.30,5.61 L333.53,5.64 L333.76,5.67 L333.99,5.69 L334.22,5.71 L334.45,5.72 L334.68,5.71 L334.91,5.70 L335.14,5.68 L335.37,5.65 L335.60,5.62 L335.83,5.58 L336.06,5.54 L336.29,5.49 L336.52,5.44 L336.75,5.39 L336.98,5.34 L337.21,5.29 L337.44,5.23 L337.67,5.16 L337.91,5.08 L338.14,4.99 L338.37,4.89 L338.60,4.78 L338.83,4.68 L339.06,4.57 L339.29,4.46 L339.52,4.35 L339.75,4.25 L339.98,4.16 L340.21,4.08 L340.44,4.00 L340.67,3.94 L340.90,3.88 L341.13,3.82 L341.36,3.75 L341.59,3.69 L341.82,3.64 L342.05,3.58 L342.28,3.53 L342.51,3.49 L342.74,3.46 L342.97,3.44 L343.20,3.43 L343.43,3.43 L343.66,3.45 L343.89,3.48 L344.12,3.52 L344.35,3.57 L344.58,3.63 L344.81,3.71 L345.04,3.79 L345.27,3.87 L345.50,3.96 L345.73,4.06 L345.96,4.15 L346.19,4.25 L346.42,4.37 L346.65,4.52 L346.88,4.68 L347.11,4.86 L347.34,5.06 L347.57,5.27 L347.80,5.50 L348.03,5.74 L348.26,5.98 L348.49,6.24 L348.72,6.50 L348.95,6.77 L349.18,7.06 L349.41,7.39 L349.64,7.74 L349.87,8.12 L350.10,8.51 L350.33,8.91 L350.56,9.33 L350.79,9.76 L351.02,10.19 L351.25,10.62 L351.48,11.07 L351.71,11.52 L351.94,12.01 L352.17,12.51 L352.40,13.06 L352.63,13.64 L352.86,14.26 L353.09,14.94 L353.32,15.67 L353.55,16.48 L353.78,17.38 L354.01,18.37 L354.24,19.48 L354.47,20.71 L354.70,22.07 L354.93,23.56 L355.16,25.21 L355.39,27.01 L355.62,29.13 L355.85,31.75 L356.08,34.94 L356.31,38.74 L356.54,43.26 L356.77,50.07 L357.00,58.46 L357.23,67.30 L357.46,77.22 L357.74,31.44 L357.74,112.10" fill="none" stroke="#0a0aff" stroke-width="1.60" stroke-linejoin="round" stroke-linecap="butt"/>
<line x1="251.80" y1="265.50" x2="311.34" y2="265.50" stroke="#6c6cf2" stroke-width="1.60"/>
<line x1="357.26" y1="265.50" x2="416.80" y2="265.50" stroke="#6c6cf2" stroke-width="1.60"/>
<path d="M311.34,265.50 L311.34,156.70" fill="none" stroke="#0a0aff" stroke-width="1.3"/>
<path d="M357.26,265.50 L357.26,156.70" fill="none" stroke="#0a0aff" stroke-width="1.3"/>
<path d="M311.64,265.50 L311.65,264.68 L311.66,263.86 L311.68,263.04 L311.69,262.22 L311.70,261.40 L311.71,260.58 L311.73,259.76 L311.74,258.94 L311.75,258.12 L311.77,257.30 L311.78,256.48 L311.79,255.66 L311.80,254.85 L311.82,254.03 L311.83,253.21 L311.84,252.39 L311.86,251.57 L311.87,250.75 L311.88,249.93 L311.89,249.11 L311.91,248.29 L311.92,247.47 L311.93,246.65 L311.95,245.83 L311.96,245.01 L311.97,244.19 L311.98,243.37 L312.00,242.55 L312.01,241.73 L312.02,240.91 L312.04,240.09 L312.05,239.27 L312.06,238.45 L312.07,237.63 L312.09,236.81 L312.10,235.99 L312.11,235.18 L312.12,234.36 L312.13,233.54 L312.15,232.72 L312.16,231.90 L312.17,231.08 L312.18,230.26 L312.19,229.44 L312.20,228.62 L312.22,227.80 L312.23,226.98 L312.24,226.16 L312.25,225.34 L312.27,224.52 L312.28,223.70 L312.29,222.88 L312.31,222.06 L312.32,221.24 L312.33,220.42 L312.35,219.60 L312.36,218.78 L312.38,217.96 L312.39,217.14 L312.41,216.32 L312.43,215.51 L312.44,214.69 L312.46,213.87 L312.48,213.05 L312.50,212.23 L312.52,211.41 L312.55,210.59 L312.57,209.77 L312.59,208.95 L312.62,208.13 L312.64,207.31 L312.67,206.49 L312.69,205.67 L312.72,204.85 L312.74,204.03 L312.77,203.21 L312.80,202.40 L312.82,201.58 L312.85,200.76 L312.88,199.94 L312.90,199.12 L312.93,198.30 L312.95,197.48 L312.98,196.66 L313.00,195.84 L313.03,195.02 L313.05,194.20 L313.08,193.38 L313.11,192.56 L313.13,191.74 L313.16,190.93 L313.19,190.11 L313.21,189.29 L313.24,188.47 L313.27,187.65 L313.30,186.83 L313.34,186.01 L313.37,185.19 L313.40,184.37 L313.44,183.55 L313.47,182.73 L313.51,181.92 L313.55,181.10 L313.59,180.28 L313.63,179.46 L313.68,178.64 L313.72,177.82 L313.77,177.00 L313.83,176.19 L313.88,175.37 L313.93,174.55 L313.99,173.73 L314.06,172.91 L314.13,172.09 L314.20,171.27 L314.29,170.45 L314.38,169.64 L314.49,168.83 L314.61,168.03 L314.78,167.21 L314.99,166.40 L315.24,165.61 L315.53,164.86 L315.87,164.14 L316.34,163.43 L316.89,162.80 L317.49,162.29 L318.17,161.87 L318.93,161.51 L319.72,161.20 L320.49,160.96 L321.28,160.74 L322.08,160.55 L322.89,160.38 L323.71,160.24 L324.51,160.14 L325.33,160.05 L326.14,159.96 L326.96,159.89 L327.78,159.82 L328.60,159.77 L329.42,159.73 L330.24,159.69 L331.06,159.66 L331.88,159.64 L332.70,159.62 L333.52,159.60 L334.33,159.60 L335.15,159.60 L335.97,159.60 L336.79,159.60 L337.61,159.60 L338.43,159.60 L339.25,159.60 L340.07,159.60 L340.89,159.61 L341.71,159.63 L342.53,159.67 L343.35,159.71 L344.17,159.75 L344.99,159.80 L345.81,159.85 L346.63,159.92 L347.44,160.00 L348.26,160.10 L349.06,160.21 L349.87,160.36 L350.68,160.56 L351.47,160.80 L352.22,161.09 L352.96,161.48 L353.64,161.97 L354.20,162.52 L354.71,163.19 L355.12,163.94 L355.34,164.70 L355.45,165.49 L355.53,166.31 L355.60,167.15 L355.66,167.98 L355.72,168.79 L355.78,169.61 L355.83,170.43 L355.88,171.25 L355.93,172.07 L355.97,172.89 L356.01,173.70 L356.04,174.52 L356.08,175.34 L356.11,176.16 L356.13,176.98 L356.16,177.80 L356.19,178.62 L356.21,179.44 L356.24,180.26 L356.26,181.08 L356.29,181.90 L356.31,182.72 L356.33,183.53 L356.35,184.35 L356.37,185.17 L356.39,185.99 L356.40,186.81 L356.42,187.63 L356.43,188.45 L356.45,189.27 L356.46,190.09 L356.48,190.91 L356.49,191.73 L356.50,192.55 L356.52,193.37 L356.53,194.19 L356.54,195.01 L356.55,195.83 L356.57,196.65 L356.58,197.47 L356.59,198.29 L356.60,199.11 L356.61,199.93 L356.62,200.75 L356.63,201.57 L356.64,202.39 L356.65,203.20 L356.66,204.02 L356.67,204.84 L356.68,205.66 L356.68,206.48 L356.69,207.30 L356.70,208.12 L356.71,208.94 L356.72,209.76 L356.72,210.58 L356.73,211.40 L356.74,212.22 L356.75,213.04 L356.75,213.86 L356.76,214.68 L356.77,215.50 L356.77,216.32 L356.78,217.14 L356.79,217.96 L356.79,218.78 L356.80,219.60 L356.81,220.42 L356.81,221.24 L356.82,222.06 L356.83,222.88 L356.83,223.70 L356.84,224.52 L356.85,225.34 L356.85,226.16 L356.86,226.98 L356.86,227.79 L356.87,228.61 L356.88,229.43 L356.88,230.25 L356.89,231.07 L356.90,231.89 L356.90,232.71 L356.91,233.53 L356.91,234.35 L356.92,235.17 L356.92,235.99 L356.93,236.81 L356.94,237.63 L356.94,238.45 L356.95,239.27 L356.95,240.09 L356.96,240.91 L356.96,241.73 L356.97,242.55 L356.97,243.37 L356.98,244.19 L356.98,245.01 L356.99,245.83 L356.99,246.65 L357.00,247.47 L357.00,248.29 L357.00,249.11 L357.01,249.93 L357.01,250.75 L357.02,251.57 L357.02,252.38 L357.02,253.20 L357.03,254.02 L357.03,254.84 L357.03,255.66 L357.04,256.48 L357.04,257.30 L357.04,258.12 L357.05,258.94 L357.05,259.76 L357.05,260.58 L357.05,261.40 L357.06,262.22 L357.06,263.04 L357.06,263.86 L357.06,264.68 L357.06,265.50" fill="none" stroke="#0a0aff" stroke-width="1.35" stroke-linejoin="round"/>
<path d="M311.34,165.50 L311.34,202.00 L312.84,202.00 L312.94,198.00 L313.34,186.00 L313.84,176.00 L314.54,168.50 L315.14,165.50 Z" fill="#0a0aff"/>
<path d="M345.00,159.20 L350.00,159.10 L353.00,159.50 L355.00,160.40 L356.50,161.80 L357.26,162.80 L357.26,196.00 L356.56,196.00 L356.26,185.00 L355.76,176.00 L355.60,169.00 L354.60,165.60 L352.80,163.20 L349.50,161.60 L345.00,160.60 Z" fill="#0a0aff"/>
</g>
</svg>
</body></html>
